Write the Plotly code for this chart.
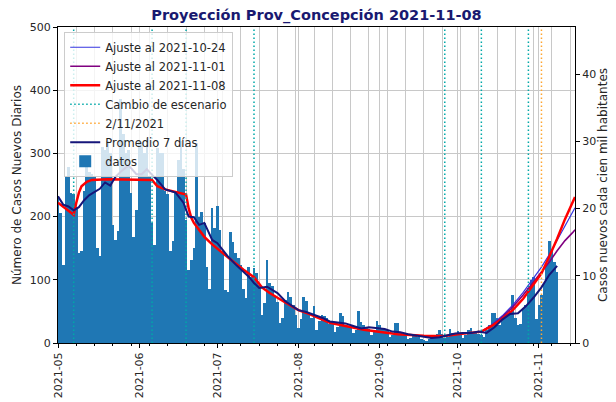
import plotly.graph_objects as go
import pandas as pd

# ---------------- data ----------------
inicio = "2021-05-01"
casos = [
    # May
    232, 205, 124, 265, 278, 238, 236, 215, 143, 146, 240, 290, 270, 268, 262, 151,
    137, 310, 305, 320, 300, 187, 163, 178, 386, 330, 300, 305, 238, 168, 211,
    # June
    322, 318, 300, 325, 265, 190, 155, 309, 300, 301, 240, 235, 145, 162, 238,
    290, 319, 275, 195, 116, 132, 150, 317, 200, 208, 190, 120, 86, 214, 182,
    # July
    216, 179, 145, 84, 80, 176, 160, 143, 135, 124, 85, 71, 120, 105, 118, 110,
    92, 44, 63, 132, 95, 90, 73, 65, 31, 40, 68, 80, 73, 60, 45,
    # August
    24, 38, 73, 66, 45, 40, 58, 21, 35, 44, 42, 39, 30, 33, 18, 25, 48, 42, 29,
    27, 25, 16, 21, 50, 34, 29, 25, 22, 13, 18, 35,
    # September
    29, 23, 22, 20, 10, 13, 32, 31, 18, 14, 12, 6, 8, 14, 12, 10, 6, 4, 3, 6,
    12, 13, 15, 20, 14, 8, 10, 22, 16, 14,
    # October
    19, 15, 8, 12, 20, 24, 18, 16, 15, 13, 10, 20, 29, 48, 48, 40, 29, 40, 47,
    45, 50, 76, 40, 29, 30, 56, 60, 87, 100, 105, 38,
    # November
    60, 76, 95, 127, 161, 148, 128, 113,
]
fechas = pd.date_range(inicio, periods=len(casos), freq="D")

promedio_fechas = [
    "2021-05-01", "2021-05-03", "2021-05-05", "2021-05-07", "2021-05-09", "2021-05-11",
    "2021-05-13", "2021-05-15", "2021-05-17", "2021-05-19", "2021-05-21", "2021-05-23",
    "2021-05-25", "2021-05-28", "2021-05-31", "2021-06-02", "2021-06-04", "2021-06-06",
    "2021-06-08", "2021-06-11", "2021-06-15", "2021-06-18", "2021-06-20", "2021-06-22",
    "2021-06-24", "2021-06-26", "2021-06-29", "2021-07-01", "2021-07-03", "2021-07-05",
    "2021-07-08", "2021-07-10", "2021-07-13", "2021-07-15", "2021-07-17", "2021-07-20",
    "2021-07-24", "2021-07-27", "2021-08-01", "2021-08-04", "2021-08-07", "2021-08-10",
    "2021-08-13", "2021-08-16", "2021-08-19", "2021-08-22", "2021-08-25", "2021-08-28",
    "2021-08-31", "2021-09-03", "2021-09-06", "2021-09-09", "2021-09-12", "2021-09-15",
    "2021-09-18", "2021-09-21", "2021-09-24", "2021-09-27", "2021-09-30", "2021-10-03",
    "2021-10-06", "2021-10-09", "2021-10-12", "2021-10-15", "2021-10-18", "2021-10-21",
    "2021-10-24", "2021-10-27", "2021-10-30", "2021-11-02", "2021-11-05", "2021-11-08",
]
promedio_vals = [
    232, 219, 216, 210, 215, 226, 234, 239, 244, 254, 249, 263,
    271, 281, 267, 267, 275, 266, 258, 243, 238, 222, 200, 199,
    187, 190, 163, 158, 148, 137, 124, 116, 105, 95, 87, 89,
    79, 66, 52, 49, 45, 40, 34, 32, 31, 27, 23, 25,
    24, 22, 18, 17, 14, 12, 10, 8, 9, 12, 15, 16,
    16, 18, 16, 25, 37, 46, 47, 58, 72, 88, 108, 122,
]

ajuste_1108_fechas = [
    "2021-05-01", "2021-05-04", "2021-05-07", "2021-05-08", "2021-05-09", "2021-05-10",
    "2021-05-12", "2021-05-14", "2021-05-20", "2021-06-06", "2021-06-07", "2021-06-08",
    "2021-06-11", "2021-06-15", "2021-06-19", "2021-06-20", "2021-06-21", "2021-06-22",
    "2021-06-24", "2021-06-26", "2021-06-29", "2021-07-03", "2021-07-07", "2021-07-11",
    "2021-07-15", "2021-07-18", "2021-07-21", "2021-07-27", "2021-08-01", "2021-08-05",
    "2021-08-13", "2021-08-26", "2021-09-08", "2021-09-18", "2021-09-26", "2021-10-01",
    "2021-10-10", "2021-10-14", "2021-10-18", "2021-10-22", "2021-10-26", "2021-10-30",
    "2021-11-02", "2021-11-05", "2021-11-08", "2021-11-11", "2021-11-14", "2021-11-14 20:00",
]
ajuste_1108_vals = [
    222, 212, 203, 222, 238, 248,
    255, 258, 259, 258, 252, 248,
    243, 239, 235, 213, 198, 190,
    179, 168, 156, 142, 129, 116,
    104, 88, 79, 64, 52, 46,
    32, 21, 14, 11.5, 11, 14,
    18, 27, 38, 52, 70, 93,
    110, 137, 165, 196, 222, 231,
]

ajuste_1024_fechas = [
    "2021-10-10", "2021-10-14", "2021-10-18", "2021-10-22", "2021-10-26", "2021-10-30",
    "2021-11-02", "2021-11-05", "2021-11-08", "2021-11-11", "2021-11-14", "2021-11-14 20:00",
]
ajuste_1024_vals = [18, 29, 43, 60, 80, 103, 120, 140, 162, 185, 208, 214]

ajuste_1101_fechas = [
    "2021-10-10", "2021-10-14", "2021-10-18", "2021-10-22", "2021-10-26", "2021-10-30",
    "2021-11-02", "2021-11-05", "2021-11-08", "2021-11-11", "2021-11-14", "2021-11-14 20:00",
]
ajuste_1101_vals = [18, 28, 41, 57, 76, 97, 111, 128, 146, 162, 175, 179]

cambio_fechas = ["2021-05-07", "2021-06-06", "2021-06-19", "2021-07-15",
                 "2021-09-26", "2021-10-10", "2021-10-28"]
fecha_ref = ["2021-11-02"]

y_max = 500
y2_max = 47.0

# ---------------- figure ----------------
def vlines(dates):
    xs, ys = [], []
    for d in dates:
        xs += [d, d, None]
        ys += [0, y_max, None]
    return xs, ys

fig = go.Figure()

fig.add_trace(go.Scatter(x=ajuste_1024_fechas, y=ajuste_1024_vals, mode="lines",
                         name="Ajuste al 2021-10-24",
                         line=dict(color="#3535e0", width=1.2)))
fig.add_trace(go.Scatter(x=ajuste_1101_fechas, y=ajuste_1101_vals, mode="lines",
                         name="Ajuste al 2021-11-01",
                         line=dict(color="#800080", width=1.6)))
fig.add_trace(go.Scatter(x=ajuste_1108_fechas, y=ajuste_1108_vals, mode="lines",
                         name="Ajuste al 2021-11-08",
                         line=dict(color="#ff0000", width=2.5)))
cx, cy = vlines(cambio_fechas)
fig.add_trace(go.Scatter(x=cx, y=cy, mode="lines", name="Cambio de escenario",
                         line=dict(color="#00a8a8", width=1.5, dash="1.5px,2.5px")))
ox, oy = vlines(fecha_ref)
fig.add_trace(go.Scatter(x=ox, y=oy, mode="lines", name="2/11/2021",
                         line=dict(color="#ffa530", width=1.5, dash="1.5px,2.5px")))
fig.add_trace(go.Scatter(x=promedio_fechas, y=promedio_vals, mode="lines",
                         name="Promedio 7 días",
                         line=dict(color="#16167a", width=2)))
fig.add_trace(go.Bar(x=fechas, y=casos, name="datos", width=86400000,
                     marker=dict(color="#1f77b4", line=dict(width=0))))
# invisible trace to activate the right axis
fig.add_trace(go.Scatter(x=[fechas[0]], y=[0], yaxis="y2", mode="markers",
                         marker=dict(opacity=0), showlegend=False, hoverinfo="skip"))

# the page body adds an 8px offset, so the figure is 8px smaller and shifted
W, H = 608, 394
grid = "#c8c8c8"
fig.update_layout(
    width=W, height=H,
    margin=dict(l=50, r=41, t=19, b=59, autoexpand=False),
    paper_bgcolor="white", plot_bgcolor="white",
    font=dict(family="DejaVu Sans", size=11, color="#262626"),
    title=dict(text="<b>Proyección Prov_Concepción 2021-11-08</b>",
               x=0.5, xref="paper", xanchor="center",
               y=1 - 7 / H, yref="container", yanchor="middle",
               font=dict(size=14.5, color="#191970")),
    bargap=0,
    showlegend=True,
    legend=dict(x=0.012, y=0.985, xanchor="left", yanchor="top",
                bgcolor="rgba(255,255,255,0.8)", bordercolor="#cccccc", borderwidth=1,
                font=dict(size=11.5, color="#262626"), tracegroupgap=0),
    xaxis=dict(type="date", range=["2021-05-01", "2021-11-14 20:00"],
               tickformat="%Y-%m", dtick="M1", tick0="2021-05-01", tickangle=-90,
               ticks="outside", ticklen=4, tickcolor="black",
               showgrid=True, gridcolor=grid, gridwidth=1,
               showline=True, linecolor="black", linewidth=1, mirror=True,
               zeroline=False,
               minor=dict(dtick=7 * 86400000, tick0="2021-05-01", ticks="outside",
                          ticklen=2, tickcolor="black", showgrid=True,
                          gridcolor=grid, gridwidth=1)),
    yaxis=dict(range=[0, y_max], dtick=100, ticks="outside", ticklen=4,
               tickcolor="black", showgrid=True, gridcolor=grid, gridwidth=1,
               showline=True, linecolor="black", linewidth=1, zeroline=False,
               title=dict(text="Número de Casos Nuevos Diarios",
                          font=dict(size=12), standoff=5)),
    yaxis2=dict(range=[0, y2_max], dtick=10, overlaying="y", side="right",
                ticks="outside", ticklen=4, tickcolor="black", showgrid=False,
                showline=True, linecolor="black", linewidth=1, zeroline=False,
                title=dict(text="Casos nuevos cada cien mil habitantes",
                           font=dict(size=12), standoff=1)),
)

fig.write_html("out.html")
